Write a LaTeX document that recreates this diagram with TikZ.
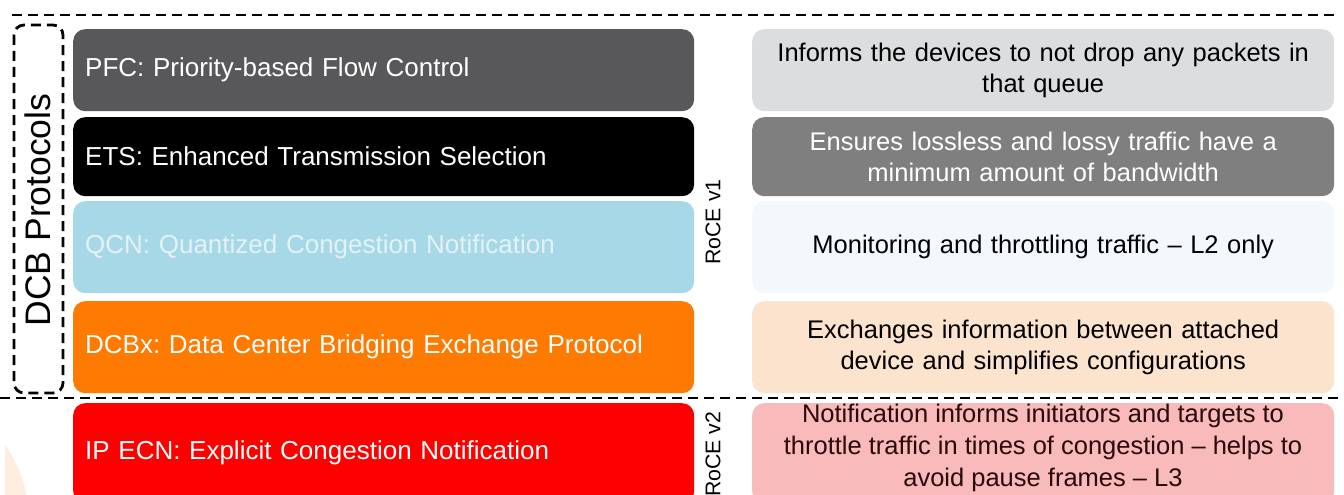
\documentclass[tikz,border=0pt]{standalone}
\usepackage{fontspec}
\setmainfont{Liberation Sans}
\frenchspacing
\definecolor{pfcgray}{HTML}{58585A}
\definecolor{qcnblue}{HTML}{A7D8E8}
\definecolor{qcntext}{HTML}{E4F1F5}
\definecolor{dcbxor}{HTML}{FF7A00}
\definecolor{ecnred}{HTML}{FF0000}
\definecolor{rgray1}{HTML}{DCDDDF}
\definecolor{rgray2}{HTML}{7F7F7F}
\definecolor{rblue}{HTML}{F2F8FC}
\definecolor{rpeach}{HTML}{FCE3CD}
\definecolor{rpink}{HTML}{F8BABA}
\definecolor{pinktext}{HTML}{2A0A0A}
\definecolor{faintpeach}{HTML}{FDEEDF}
\tikzset{
  lbox/.style={rounded corners=12pt, minimum width=621pt, text width=597pt, align=left, inner sep=0pt, anchor=north west, font=\fontsize{26}{30}\selectfont},
  rbox/.style={rounded corners=12pt, minimum width=582pt, text width=575pt, align=center, inner sep=0pt, anchor=north west, font=\fontsize{25.5}{31}\selectfont},
  dashline/.style={line width=2.8pt, dash pattern=on 10pt off 6pt},
  vlabel/.style={rotate=90, inner sep=0pt}
}
\begin{document}
\begin{tikzpicture}[x=1pt,y=-1pt]
\useasboundingbox (0,0) rectangle (1344,495);
% faint decoration at bottom left
\begin{scope}
\clip (5,420) rectangle (73,495);
\fill[faintpeach] (-100,520) circle (129);
\end{scope}
% left boxes
\node[lbox, fill=pfcgray, text=white, minimum height=82pt] (pfc) at (73,29) {PFC: Priority-based Flow Control};
\node[lbox, fill=black, text=white, minimum height=79pt] (ets) at (73,117) {ETS: Enhanced Transmission Selection};
\node[lbox, fill=qcnblue, text=qcntext, minimum height=92pt] (qcn) at (73,201) {QCN: Quantized Congestion Notification};
\node[lbox, fill=dcbxor, text=white, minimum height=92pt] (dcbx) at (73,301) {DCBx: Data Center Bridging Exchange Protocol};
\node[lbox, fill=ecnred, text=white, minimum height=100pt] (ecn) at (73,403) {IP ECN: Explicit Congestion Notification};
% right boxes
\node[rbox, fill=rgray1, text=black, minimum height=82pt] (r1) at (752,29) {Informs the devices to not drop any packets in\\that queue};
\node[rbox, fill=rgray2, text=white, minimum height=79pt] (r2) at (752,117) {Ensures lossless and lossy traffic have a\\minimum amount of bandwidth};
\node[rbox, fill=rblue, text=black, minimum height=92pt] (r3) at (752,201) {Monitoring and throttling traffic -- L2 only};
\node[rbox, fill=rpeach, text=black, minimum height=92pt] (r4) at (752,301) {Exchanges information between attached\\device and simplifies configurations};
\node[rbox, fill=rpink, text=pinktext, minimum height=100pt] (r5) at (752,403) {};
\node[align=center, font=\fontsize{25.5}{32}\selectfont, text=pinktext, anchor=north, inner sep=0pt] (r5t) at (1043,404) {Notification informs initiators and targets to\\throttle traffic in times of congestion -- helps to\\avoid pause frames -- L3};
% dashed separators
\coordinate (tl) at (12,15);
\coordinate (tr) at (1338,15);
\coordinate (bl) at (0,398);
\coordinate (br) at (1344,398);
\draw[dashline] (tl) -- (tr);
\draw[dashline] (bl) -- (br);
\draw[dashline, rounded corners=10pt] (14,25) rectangle (63,393);
% labels
\node[vlabel, font=\fontsize{35.5}{36}\selectfont] (dcb) at (38,210) {DCB Protocols};
\node[vlabel, font=\fontsize{21.3}{22}\selectfont] (v1) at (713,222) {RoCE v1};
\node[vlabel, font=\fontsize{21.3}{22}\selectfont, anchor=west] (v2) at (713,497) {RoCE v2};
\end{tikzpicture}
\end{document}
